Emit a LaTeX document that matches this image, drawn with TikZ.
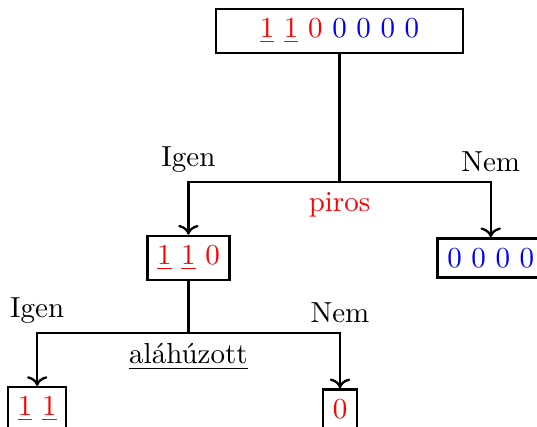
\documentclass[tikz,border=0pt]{standalone}
\usetikzlibrary{arrows.meta}
\begin{document}
\begin{tikzpicture}[x=0.345pt,y=-0.345pt,
  box/.style={draw,thick,inner sep=0.3333em},
  link/.style={thick},
  arrowlink/.style={thick,->}]
\useasboundingbox (0,0) rectangle (537,426);
\clip (0,0) rectangle (537,426);

% nodes of the tree
\node[box,minimum width=3cm] (root) at (339.5,31)
  {\textcolor{red}{$\underline{1}$ $\underline{1}$ 0} \textcolor{blue}{0 0 0 0}};
\node[box] (a) at (188.4,258) {\textcolor{red}{$\underline{1}$ $\underline{1}$ 0}};
\node[box] (b) at (490.7,258) {\textcolor{blue}{0 0 0 0}};
\node[box] (aa) at (37.2,409) {\textcolor{red}{$\underline{1}$ $\underline{1}$}};
\node[box] (ab) at (340,409) {\textcolor{red}{0}};

% junctions of the first split
\coordinate (j1) at (339.5,182.3);
\coordinate (l1) at (188.4,182.3);
\coordinate (r1) at (490.7,182.3);
\draw[link] (root.south) -- (j1);
\draw[arrowlink] (j1) -| (a.north);
\draw[arrowlink] (j1) -| (b.north);
\node[above] (igen1) at (l1) {Igen};
\node[above] (nem1) at (r1) {Nem};
\node[below,text=red] (q1) at (j1) {piros};

% junctions of the second split
\coordinate (j2) at (188.4,333.3);
\coordinate (l2) at (37.2,333.3);
\coordinate (r2) at (340,333.3);
\draw[link] (a.south) -- (j2);
\draw[arrowlink] (j2) -| (aa.north);
\draw[arrowlink] (j2) -| (ab.north);
\node[above] (igen2) at (l2) {Igen};
\node[above] (nem2) at (r2) {Nem};
\node[below] (q2) at (j2) {\underline{aláhúzott}};
\end{tikzpicture}
\end{document}
